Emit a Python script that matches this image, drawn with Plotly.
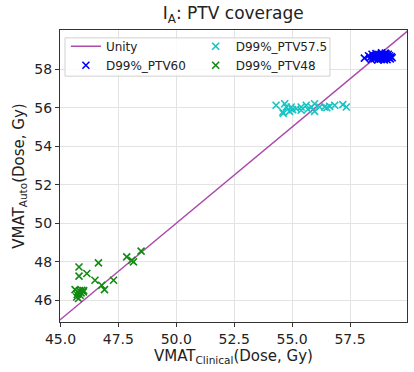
import plotly.graph_objects as go

# ---- data ----
unity_x = [44.0, 61.0]
unity_y = [44.0, 61.0]

ptv60_x = [58.12, 58.30, 58.38, 58.45, 58.50, 58.55, 58.60, 58.62, 58.68, 58.72,
           58.75, 58.78, 58.82, 58.85, 58.88, 58.90, 58.93, 58.96, 59.00, 59.02,
           59.05, 59.08, 59.10, 59.12, 59.15, 59.18, 59.20, 59.24, 59.28, 59.32,
           58.70, 58.98, 58.42, 59.06, 58.86]
ptv60_y = [58.58, 58.70, 58.62, 58.78, 58.66, 58.55, 58.72, 58.82, 58.64, 58.58,
           58.76, 58.68, 58.52, 58.80, 58.62, 58.70, 58.55, 58.75, 58.65, 58.84,
           58.58, 58.72, 58.50, 58.66, 58.78, 58.60, 58.70, 58.54, 58.66, 58.60,
           58.48, 58.48, 58.50, 58.80, 58.86]

ptv575_x = [54.31, 54.68, 54.75, 54.60, 54.96, 54.89, 55.18, 55.39, 55.61, 55.83,
            55.97, 55.97, 56.19, 56.40, 56.62, 56.84, 57.19, 57.34, 55.68, 55.39,
            54.62, 55.02, 56.50]
ptv575_y = [56.13, 56.21, 56.04, 55.78, 56.04, 55.81, 55.95, 56.04, 56.13, 56.04,
            56.21, 55.81, 56.04, 56.04, 56.07, 56.13, 56.16, 56.04, 55.92, 55.87,
            55.70, 55.90, 56.00]

ptv48_x = [45.80, 46.64, 45.80, 46.14, 46.49, 46.78, 46.90, 47.29, 47.86, 48.08,
           48.15, 48.48, 45.63, 45.75, 45.92, 45.99, 45.70, 45.85, 45.78, 45.89,
           45.72, 45.82, 46.00]
ptv48_y = [47.73, 47.94, 47.25, 47.39, 47.04, 46.78, 46.55, 47.04, 48.25, 48.08,
           47.99, 48.55, 46.55, 46.43, 46.52, 46.43, 46.17, 46.26, 46.09, 46.38,
           46.30, 46.50, 46.50]

x_ticks = [45.0, 47.5, 50.0, 52.5, 55.0, 57.5]
y_ticks = [46, 48, 50, 52, 54, 56, 58]

FONT = "DejaVu Sans"

def mk(color):
    return dict(symbol="x-thin", size=7, color=color,
                line=dict(width=1.6, color=color))

fig = go.Figure()
fig.add_trace(go.Scatter(x=unity_x, y=unity_y, mode="lines", name="Unity",
                         line=dict(color="#aa4aaa", width=1.5), legend="legend"))
fig.add_trace(go.Scatter(x=ptv60_x, y=ptv60_y, mode="markers", name="D99%_PTV60",
                         marker=mk("#0000ff"), legend="legend"))
fig.add_trace(go.Scatter(x=ptv575_x, y=ptv575_y, mode="markers", name="D99%_PTV57.5",
                         marker=mk("#17c3c3"), legend="legend2"))
fig.add_trace(go.Scatter(x=ptv48_x, y=ptv48_y, mode="markers", name="D99%_PTV48",
                         marker=mk("#108a10"), legend="legend2"))

axis_common = dict(showline=True, linecolor="#333", linewidth=1, mirror=True,
                   ticks="outside", ticklen=4, tickcolor="#333",
                   showgrid=True, gridcolor="#e3e3e3", gridwidth=1,
                   zeroline=False, tickfont=dict(size=14, color="#222", family=FONT))

leg_common = dict(orientation="v", yanchor="top", xanchor="left",
                  bgcolor="rgba(0,0,0,0)", borderwidth=0,
                  font=dict(size=12, family=FONT, color="#222"),
                  tracegroupgap=0)

fig.update_layout(
    width=414, height=372,
    margin=dict(l=60, r=7, t=30, b=50),
    paper_bgcolor="white", plot_bgcolor="white",
    font=dict(family=FONT, color="#222"),
    title=dict(text="I<sub>A</sub>: PTV coverage", x=0.5635, xanchor="center",
               y=0.965, yanchor="middle", font=dict(size=17, family=FONT, color="#222")),
    xaxis=dict(range=[44.98, 59.96], tickvals=x_ticks, tickformat=".1f",
               title=dict(text="VMAT<sub>Clinical</sub>(Dose, Gy)", standoff=4,
                          font=dict(size=15, family=FONT)), **axis_common),
    yaxis=dict(range=[44.87, 60.04], tickvals=y_ticks,
               title=dict(text="VMAT<sub>Auto</sub>(Dose, Gy)", standoff=6,
                          font=dict(size=15, family=FONT)), **axis_common),
    legend=dict(x=0.017, y=0.994, **leg_common),
    legend2=dict(x=0.391, y=0.994, **leg_common),
    showlegend=True,
    shapes=[dict(type="rect", xref="paper", yref="paper",
                 x0=0.0144, x1=0.778, y0=0.842, y1=0.973,
                 line=dict(color="#d0d0d0", width=1),
                 fillcolor="rgba(255,255,255,0.85)", layer="above")],
)

fig.write_html("out.html")
